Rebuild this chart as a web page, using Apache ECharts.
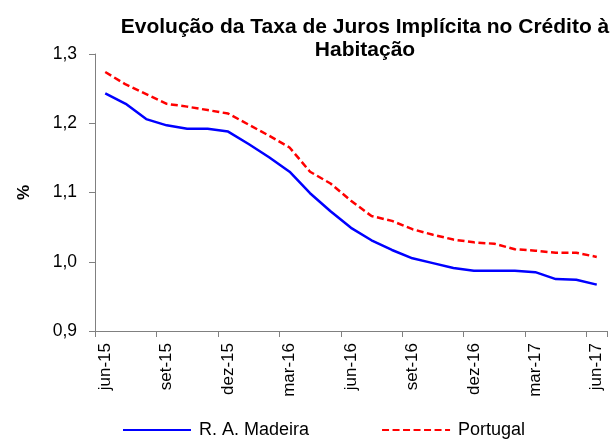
<!DOCTYPE html>
<html>
<head>
<meta charset="utf-8">
<script src="https://cdn.jsdelivr.net/npm/echarts@6/dist/echarts.min.js"></script>
<style>
html,body{margin:0;padding:0;background:#fff;}
#chart{width:614px;height:439px;}
</style>
</head>
<body>
<div id="chart"></div>
<script>
var categories = ['jun-15','jul-15','ago-15','set-15','out-15','nov-15','dez-15','jan-16','fev-16','mar-16','abr-16','mai-16','jun-16','jul-16','ago-16','set-16','out-16','nov-16','dez-16','jan-17','fev-17','mar-17','abr-17','mai-17','jun-17'];
var madeira = [1.243,1.228,1.206,1.197,1.192,1.192,1.188,1.170,1.151,1.130,1.099,1.073,1.049,1.031,1.017,1.005,0.998,0.991,0.987,0.987,0.987,0.985,0.975,0.974,0.967];
var portugal = [1.274,1.256,1.242,1.228,1.224,1.219,1.214,1.198,1.182,1.165,1.130,1.113,1.088,1.066,1.059,1.047,1.039,1.032,1.028,1.026,1.018,1.016,1.013,1.013,1.007];
var yTicks = [0.9,1.0,1.1,1.2,1.3];

var font = 'Liberation Sans, Arial, sans-serif';
var chart = echarts.init(document.getElementById('chart'));
chart.setOption({
  animation: false,
  backgroundColor: '#ffffff',
  title: {
    text: 'Evolução da Taxa de Juros Implícita no Crédito à\nHabitação',
    left: 360,
    top: 11,
    textAlign: 'center',
    textStyle: {fontFamily: font, fontSize: 21, fontWeight: 'bold', color: '#000', lineHeight: 23}
  },
  grid: {left: 95, right: 7, top: 54, bottom: 108, containLabel: false},
  legend: {
    left: 117,
    top: 416,
    itemWidth: 68,
    itemHeight: 14,
    itemGap: 72,
    itemStyle: {opacity: 0},
    textStyle: {fontFamily: font, fontSize: 18, color: '#000', padding: [0, 0, 0, 3]},
    data: ['R. A. Madeira', 'Portugal']
  },
  xAxis: {
    type: 'category',
    data: categories,
    boundaryGap: true,
    axisLine: {lineStyle: {color: '#808080', width: 1}},
    axisTick: {show: true, interval: 2, length: 6, lineStyle: {color: '#808080'}},
    axisLabel: {interval: 2, rotate: 90, margin: 12, fontFamily: font, fontSize: 17, color: '#000'}
  },
  yAxis: {
    type: 'value',
    min: yTicks[0],
    max: yTicks[yTicks.length - 1],
    interval: 0.1,
    name: '%',
    nameLocation: 'middle',
    nameRotate: 90,
    nameGap: 62,
    nameTextStyle: {fontFamily: font, fontSize: 17, fontWeight: 'bold', color: '#000'},
    axisLine: {show: true, lineStyle: {color: '#808080', width: 1}},
    axisTick: {show: true, length: 6, lineStyle: {color: '#808080'}},
    splitLine: {show: false},
    axisLabel: {
      margin: 18,
      fontFamily: font, fontSize: 17.5, color: '#000',
      formatter: function (v) { return v.toFixed(1).replace('.', ','); }
    }
  },
  series: [
    {
      name: 'R. A. Madeira',
      type: 'line',
      data: madeira,
      symbol: 'none',
      color: '#0000ff',
      lineStyle: {color: '#0000ff', width: 2.5}
    },
    {
      name: 'Portugal',
      type: 'line',
      data: portugal,
      symbol: 'none',
      color: '#ff0000',
      lineStyle: {color: '#ff0000', width: 2.5, type: [7, 3.5]}
    }
  ]
});
</script>
</body>
</html>
